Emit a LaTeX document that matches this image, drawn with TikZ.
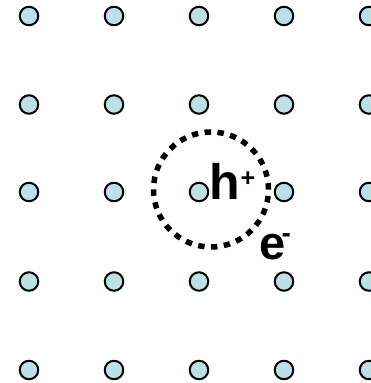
\documentclass[tikz,border=0pt]{standalone}
\usepackage{fontspec}
\setmainfont{Liberation Sans}
\definecolor{dotfill}{RGB}{189,224,228}
\begin{document}
\begin{tikzpicture}[x=1pt,y=1pt,
  latdot/.style={circle,draw=black,line width=2pt,fill=dotfill,minimum size=18.5pt,inner sep=0pt},
  holering/.style={circle,draw=black,line width=5.5pt,dash pattern=on 6.4pt off 6.5pt,minimum size=115pt,inner sep=0pt},
  bigtxt/.style={inner sep=0pt,anchor=base west,font=\bfseries\fontsize{50}{50}\selectfont},
  etxt/.style={inner sep=0pt,anchor=base west,font=\bfseries\fontsize{47}{47}\selectfont},
  suptxt/.style={inner sep=0pt,anchor=base west,font=\bfseries\fontsize{25}{25}\selectfont},
  supe/.style={inner sep=0pt,anchor=base west,font=\bfseries\fontsize{28}{28}\selectfont}]
\useasboundingbox (0,0) rectangle (371,383);
\foreach \i/\x in {1/29,2/114,3/199,4/284,5/369}{
  \foreach \j/\y in {1/367,2/278.5,3/191,4/101.5,5/13}{
    \node[latdot] (d\i\j) at (\x,\y) {};
  }
}
\node[holering] (ring) at (211,193.5) {};
\node[bigtxt] (h) at (209.5,183) {h};
\node[suptxt] (hplus) at (240.5,196) {+};
\node[etxt] (e) at (259.5,123) {e};
\node[supe] (eminus) at (281.5,140) {-};
\end{tikzpicture}
\end{document}
